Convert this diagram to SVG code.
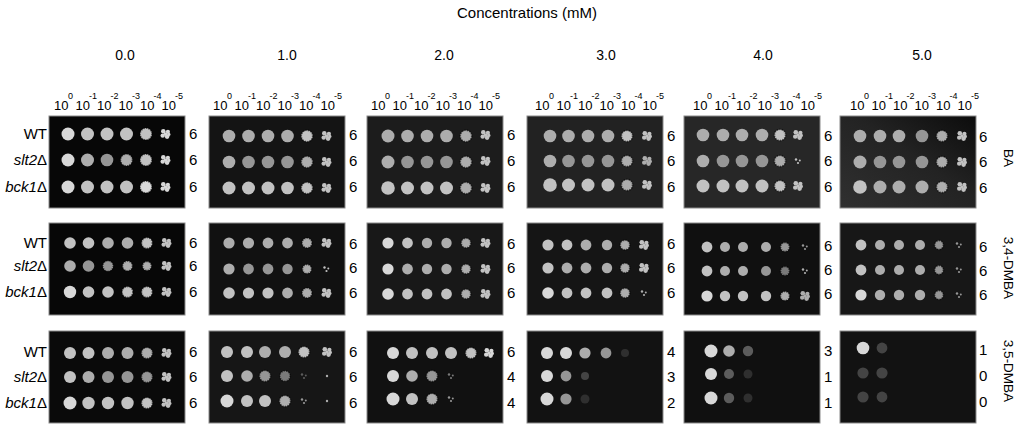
<svg xmlns="http://www.w3.org/2000/svg" xmlns:xlink="http://www.w3.org/1999/xlink" width="1024" height="427" viewBox="0 0 1024 427">
<style>
text{font-family:"Liberation Sans",Arial,sans-serif;fill:#000}
.t{font-size:15px}
.v{font-size:14px}
.n{font-size:15px}
.lb{font-size:15px;text-anchor:end}
.pl{stroke:#8a8a8a;stroke-width:1}
.a{fill:#d8d8d8}.b{fill:#c2c2c2}.c{fill:#adadad}.d{fill:#969696}.e{fill:#7a7a7a}.f{fill:#5c5c5c}.g{fill:#444}.h{fill:#2f2f2f}
.r{stroke:#000;stroke-opacity:.55;stroke-width:1.8;stroke-dasharray:1.2 1.3}
</style>
<defs>
<g id="cl"><circle cx="-2.2" cy="-2.8" r="2.3"/><circle cx="2.4" cy="-2.2" r="2.1"/><circle cx="-2.8" cy="1.6" r="2.2"/><circle cx="1.6" cy="2.6" r="2.3"/><circle cx="3.4" cy="0.4" r="1.6"/><circle cx="0" cy="0" r="1.8"/></g>
<g id="fw"><circle cx="-2" cy="-1.5" r="1.2"/><circle cx="1.8" cy="-0.5" r="1"/><circle cx="0" cy="2" r="1.1"/></g>
<g id="dil">
<text font-size="13" y="110"><tspan x="0">10</tspan><tspan x="21.5">10</tspan><tspan x="43">10</tspan><tspan x="64.5">10</tspan><tspan x="86">10</tspan><tspan x="107.5">10</tspan></text>
<text font-size="9" y="99"><tspan x="14">0</tspan><tspan x="35">-1</tspan><tspan x="56.5">-2</tspan><tspan x="78">-3</tspan><tspan x="99.5">-4</tspan><tspan x="121">-5</tspan></text>
</g>
<linearGradient id="g6" x1="1" y1="0" x2="0" y2="1"><stop offset="0" stop-color="#0c0c0c"/><stop offset="0.45" stop-color="#232323"/><stop offset="1" stop-color="#303030"/></linearGradient>
</defs>

<g id="header">
<text class="t" x="527" y="18" text-anchor="middle">Concentrations (mM)</text>
<text class="v" text-anchor="middle" y="60"><tspan x="125">0.0</tspan><tspan x="287">1.0</tspan><tspan x="444">2.0</tspan><tspan x="606">3.0</tspan><tspan x="763">4.0</tspan><tspan x="922">5.0</tspan></text>
<use href="#dil" x="54"/><use href="#dil" x="213"/><use href="#dil" x="371"/><use href="#dil" x="535"/><use href="#dil" x="693"/><use href="#dil" x="850"/>
</g>

<g id="strains">
<text class="lb" x="47" y="139">WT</text>
<text class="lb" x="47" y="165"><tspan font-style="italic">slt2</tspan>Δ</text>
<text class="lb" x="47" y="192"><tspan font-style="italic">bck1</tspan>Δ</text>
<text class="lb" x="47" y="248">WT</text>
<text class="lb" x="47" y="271"><tspan font-style="italic">slt2</tspan>Δ</text>
<text class="lb" x="47" y="297"><tspan font-style="italic">bck1</tspan>Δ</text>
<text class="lb" x="47" y="357">WT</text>
<text class="lb" x="47" y="382"><tspan font-style="italic">slt2</tspan>Δ</text>
<text class="lb" x="47" y="408"><tspan font-style="italic">bck1</tspan>Δ</text>
</g>

<g id="compounds">
<text transform="translate(1004,158) rotate(90)" text-anchor="middle" font-size="13.5">BA</text>
<text transform="translate(1004,268) rotate(90)" text-anchor="middle" font-size="13.5">3,4-DMBA</text>
<text transform="translate(1004,371) rotate(90)" text-anchor="middle" font-size="13.5">3,5-DMBA</text>
</g>

<g id="scores" class="n">
<text x="189" y="139">6</text><text x="189" y="165">6</text><text x="189" y="192">6</text>
<text x="349" y="140">6</text><text x="349" y="166">6</text><text x="349" y="192">6</text>
<text x="507" y="140">6</text><text x="507" y="166">6</text><text x="507" y="192">6</text>
<text x="667" y="141">6</text><text x="667" y="166">6</text><text x="667" y="192">6</text>
<text x="824" y="141">6</text><text x="824" y="166">6</text><text x="824" y="192">6</text>
<text x="979" y="142">6</text><text x="979" y="167">6</text><text x="979" y="193">6</text>

<text x="189" y="248">6</text><text x="189" y="271">6</text><text x="189" y="297">6</text>
<text x="349" y="249">6</text><text x="349" y="273">6</text><text x="349" y="298">6</text>
<text x="507" y="249">6</text><text x="507" y="273">6</text><text x="507" y="298">6</text>
<text x="667" y="249">6</text><text x="667" y="273">6</text><text x="667" y="298">6</text>
<text x="824" y="251">6</text><text x="824" y="275">6</text><text x="824" y="299">6</text>
<text x="979" y="252">6</text><text x="979" y="276">6</text><text x="979" y="300">6</text>

<text x="189" y="357">6</text><text x="189" y="382">6</text><text x="189" y="408">6</text>
<text x="349" y="357">6</text><text x="349" y="382">6</text><text x="349" y="408">6</text>
<text x="507" y="357">6</text><text x="507" y="382">4</text><text x="507" y="408">4</text>
<text x="667" y="357">4</text><text x="667" y="382">3</text><text x="667" y="408">2</text>
<text x="824" y="356">3</text><text x="824" y="382">1</text><text x="824" y="408">1</text>
<text x="979" y="355">1</text><text x="979" y="381">0</text><text x="979" y="407">0</text>
</g>

<!-- Row 1: BA -->
<g id="r1c1" transform="translate(49,116)">
<rect class="pl" width="136" height="92" fill="#070707"/>
<circle cx="19" cy="18" r="6.5" class="a"/><circle cx="38.5" cy="18" r="6.5" class="b"/><circle cx="58" cy="18" r="6.5" class="b"/><circle cx="77.5" cy="18" r="6.5" class="b"/><circle cx="97" cy="18" r="6" class="b r"/><use href="#cl" x="116.5" y="18" class="a"/>
<circle cx="19" cy="44" r="6.5" class="a"/><circle cx="38.5" cy="44" r="6.5" class="c"/><circle cx="58" cy="44" r="6.3" class="d"/><circle cx="77.5" cy="44" r="6" class="c r"/><circle cx="97" cy="44" r="6" class="b r"/><use href="#cl" x="116.5" y="44" class="a"/>
<circle cx="19" cy="71" r="6.5" class="a"/><circle cx="38.5" cy="71" r="6.5" class="b"/><circle cx="58" cy="71" r="6.5" class="b"/><circle cx="77.5" cy="71" r="6.5" class="b"/><circle cx="97" cy="71" r="6" class="a r"/><use href="#cl" x="116.5" y="71" class="a"/>
</g>
<g id="r1c2" transform="translate(209,116)">
<rect class="pl" width="136" height="92" fill="#141414"/>
<circle cx="20" cy="20" r="6.3" class="c"/><circle cx="39.5" cy="20" r="6.3" class="c"/><circle cx="59" cy="20" r="6.3" class="c"/><circle cx="78.5" cy="20" r="6.3" class="c"/><circle cx="98" cy="20" r="5.8" class="b r"/><use href="#cl" x="117.5" y="20" class="b"/>
<circle cx="20" cy="46" r="6.3" class="c"/><circle cx="39.5" cy="46" r="6.3" class="d"/><circle cx="59" cy="46" r="6.3" class="d"/><circle cx="78.5" cy="46" r="6.3" class="d"/><circle cx="98" cy="46" r="5.8" class="c r"/><use href="#cl" x="117.5" y="46" class="b"/>
<circle cx="20" cy="72" r="6.5" class="b"/><circle cx="39.5" cy="72" r="6.5" class="b"/><circle cx="59" cy="72" r="6.5" class="b"/><circle cx="78.5" cy="72" r="6.3" class="b"/><circle cx="98" cy="72" r="5.8" class="b r"/><use href="#cl" x="117.5" y="72" class="b"/>
</g>
<g id="r1c3" transform="translate(367,116)">
<rect class="pl" width="136" height="92" fill="#1c1c1c"/>
<circle cx="21" cy="20" r="6.5" class="c"/><circle cx="40.5" cy="20" r="6.3" class="c"/><circle cx="60" cy="20" r="6.3" class="c"/><circle cx="79.5" cy="20" r="6.3" class="c"/><circle cx="99" cy="20" r="5.8" class="c r"/><use href="#cl" x="118.5" y="19" class="b"/>
<circle cx="21" cy="46" r="6.5" class="c"/><circle cx="40.5" cy="46" r="6.3" class="d"/><circle cx="60" cy="46" r="6.3" class="d"/><circle cx="79.5" cy="46" r="6.3" class="d"/><circle cx="99" cy="46" r="5.8" class="c r"/><use href="#cl" x="118.5" y="45" class="b"/>
<circle cx="21" cy="72" r="6.8" class="b"/><circle cx="40.5" cy="72" r="6.5" class="b"/><circle cx="60" cy="72" r="6.5" class="b"/><circle cx="79.5" cy="72" r="6.5" class="b"/><circle cx="99" cy="72" r="5.8" class="c r"/><use href="#cl" x="118.5" y="72" class="b"/>
</g>
<g id="r1c4" transform="translate(527,116)">
<rect class="pl" width="136" height="92" fill="#222"/>
<circle cx="23" cy="20" r="6.3" class="c"/><circle cx="41.5" cy="20" r="6.3" class="c"/><circle cx="61" cy="20" r="6.3" class="c"/><circle cx="81" cy="20" r="6.3" class="c"/><circle cx="100" cy="20" r="5.6" class="b r"/><use href="#cl" x="120" y="20" class="b"/>
<circle cx="23" cy="45" r="6.3" class="c"/><circle cx="41.5" cy="45" r="6.3" class="d"/><circle cx="61" cy="45" r="6.3" class="d"/><circle cx="81" cy="45" r="6.3" class="d"/><circle cx="100" cy="45" r="5.6" class="c r"/><use href="#cl" x="120" y="45" class="c"/>
<circle cx="23" cy="69" r="6.8" class="b"/><circle cx="41.5" cy="69" r="6.5" class="b"/><circle cx="61" cy="69" r="6.5" class="b"/><circle cx="81" cy="69" r="6.5" class="b"/><circle cx="100" cy="69" r="5.6" class="c r"/><use href="#cl" x="120" y="69" class="b"/>
</g>
<g id="r1c5" transform="translate(684,116)">
<rect class="pl" width="136" height="92" fill="#272727"/>
<circle cx="19" cy="19" r="6.3" class="c"/><circle cx="39" cy="19" r="6.3" class="c"/><circle cx="58" cy="19" r="6.3" class="c"/><circle cx="78" cy="19" r="6.3" class="c"/><circle cx="96" cy="19" r="5.6" class="b r"/><use href="#cl" x="114" y="19" class="b"/>
<circle cx="19" cy="45" r="6.3" class="c"/><circle cx="39" cy="45" r="6.3" class="d"/><circle cx="58" cy="45" r="6.3" class="d"/><circle cx="78" cy="45" r="6.3" class="d"/><circle cx="96" cy="45" r="5.6" class="c r"/><use href="#fw" x="114" y="45" class="b"/>
<circle cx="19" cy="70" r="6.5" class="b"/><circle cx="39" cy="70" r="6.5" class="b"/><circle cx="58" cy="70" r="6.5" class="b"/><circle cx="78" cy="70" r="6.5" class="b"/><circle cx="96" cy="70" r="5.6" class="b r"/><use href="#cl" x="114" y="70" class="b"/>
</g>
<g id="r1c6" transform="translate(840,116)">
<rect class="pl" width="136" height="92" fill="url(#g6)"/>
<circle cx="20" cy="20" r="6.3" class="c"/><circle cx="40" cy="20" r="6.3" class="c"/><circle cx="59" cy="20" r="6.3" class="c"/><circle cx="82" cy="20" r="6.3" class="d"/><circle cx="102" cy="20" r="5.6" class="c r"/><use href="#cl" x="122" y="20" class="b"/>
<circle cx="20" cy="46" r="6.5" class="c"/><circle cx="40" cy="46" r="6.3" class="d"/><circle cx="59" cy="46" r="6.3" class="d"/><circle cx="82" cy="46" r="6.3" class="d"/><circle cx="102" cy="46" r="5.6" class="c r"/><use href="#cl" x="122" y="46" class="b"/>
<circle cx="20" cy="71" r="6.8" class="b"/><circle cx="40" cy="71" r="6.5" class="c"/><circle cx="59" cy="71" r="6.5" class="c"/><circle cx="82" cy="71" r="6.5" class="c"/><circle cx="102" cy="71" r="5.6" class="c r"/><use href="#cl" x="122" y="71" class="b"/>
</g>

<!-- Row 2: 3,4-DMBA -->
<g id="r2c1" transform="translate(49,223)">
<rect class="pl" width="136" height="92" fill="#070707"/>
<circle cx="21" cy="20" r="5.8" class="b"/><circle cx="39.5" cy="20" r="5.8" class="b"/><circle cx="59" cy="20" r="5.8" class="c"/><circle cx="78.5" cy="20" r="5.8" class="c"/><circle cx="98" cy="20" r="5.5" class="b r"/><use href="#cl" x="117.5" y="20" class="b"/>
<circle cx="21" cy="43" r="5.8" class="c"/><circle cx="39.5" cy="43" r="5.8" class="d"/><circle cx="59" cy="43" r="5.3" class="d r"/><circle cx="78.5" cy="43" r="5" class="c r"/><circle cx="98" cy="43" r="4.5" class="c r"/><use href="#cl" x="117.5" y="43" class="b"/>
<circle cx="21" cy="69" r="6.2" class="a"/><circle cx="39.5" cy="69" r="5.8" class="b"/><circle cx="59" cy="69" r="5.8" class="b"/><circle cx="78.5" cy="69" r="5.5" class="b r"/><circle cx="98" cy="69" r="5.5" class="b r"/><use href="#cl" x="117.5" y="69" class="b"/>
</g>
<g id="r2c2" transform="translate(209,223)">
<rect class="pl" width="136" height="92" fill="#111"/>
<circle cx="20" cy="20" r="5.6" class="c"/><circle cx="39.5" cy="20" r="5.6" class="c"/><circle cx="59" cy="20" r="5.4" class="c"/><circle cx="78.5" cy="20" r="5.4" class="c"/><circle cx="98" cy="20" r="5" class="c r"/><use href="#cl" x="117.5" y="20" class="b"/>
<circle cx="20" cy="46" r="5.6" class="c"/><circle cx="39.5" cy="46" r="5.4" class="d"/><circle cx="59" cy="46" r="5.4" class="d"/><circle cx="78.5" cy="46" r="5.2" class="d"/><circle cx="98" cy="46" r="4.6" class="c r"/><use href="#fw" x="117.5" y="46" class="b"/>
<circle cx="20" cy="70" r="5.8" class="b"/><circle cx="39.5" cy="70" r="5.6" class="b"/><circle cx="59" cy="70" r="5.6" class="b"/><circle cx="78.5" cy="70" r="5.4" class="c"/><circle cx="98" cy="70" r="5" class="c r"/><use href="#cl" x="117.5" y="70" class="b"/>
</g>
<g id="r2c3" transform="translate(367,223)">
<rect class="pl" width="136" height="92" fill="#181818"/>
<circle cx="21" cy="20" r="5.6" class="a"/><circle cx="40.5" cy="20" r="5.4" class="b"/><circle cx="60" cy="20" r="5.2" class="c"/><circle cx="79.5" cy="20" r="5.2" class="c"/><circle cx="99" cy="20" r="4.8" class="c r"/><use href="#cl" x="118.5" y="20" class="b"/>
<circle cx="21" cy="46" r="5.6" class="a"/><circle cx="40.5" cy="46" r="5.4" class="c"/><circle cx="60" cy="46" r="5.2" class="c"/><circle cx="79.5" cy="46" r="5.2" class="c"/><circle cx="99" cy="46" r="4.8" class="c r"/><use href="#cl" x="118.5" y="46" class="b"/>
<circle cx="21" cy="71" r="5.8" class="a"/><circle cx="40.5" cy="71" r="5.4" class="b"/><circle cx="60" cy="71" r="5.4" class="b"/><circle cx="79.5" cy="71" r="5.4" class="b"/><circle cx="99" cy="71" r="4.8" class="c r"/><use href="#cl" x="118.5" y="71" class="b"/>
</g>
<g id="r2c4" transform="translate(527,223)">
<rect class="pl" width="136" height="92" fill="#151515"/>
<circle cx="21" cy="22" r="5.6" class="b"/><circle cx="40" cy="22" r="5.4" class="b"/><circle cx="59" cy="22" r="5.4" class="c"/><circle cx="80" cy="22" r="5.2" class="c"/><circle cx="98" cy="22" r="4.8" class="c r"/><use href="#cl" x="117" y="22" class="b"/>
<circle cx="21" cy="45" r="5.6" class="b"/><circle cx="40" cy="45" r="5.4" class="c"/><circle cx="59" cy="45" r="5.4" class="c"/><circle cx="80" cy="45" r="5.2" class="c"/><circle cx="98" cy="45" r="4.8" class="c r"/><use href="#cl" x="117" y="45" class="b"/>
<circle cx="21" cy="70" r="5.8" class="a"/><circle cx="40" cy="70" r="5.4" class="b"/><circle cx="59" cy="70" r="5.4" class="b"/><circle cx="80" cy="70" r="5.4" class="b"/><circle cx="98" cy="70" r="4.8" class="c r"/><use href="#fw" x="117" y="70" class="c"/>
</g>
<g id="r2c5" transform="translate(684,223)">
<rect class="pl" width="136" height="92" fill="#101010"/>
<circle cx="23" cy="24" r="5.4" class="b"/><circle cx="41" cy="24" r="5" class="c"/><circle cx="59" cy="24" r="5" class="c"/><circle cx="82" cy="24" r="5" class="c"/><circle cx="101" cy="24" r="4.5" class="d r"/><use href="#fw" x="121" y="24" class="d"/>
<circle cx="23" cy="48" r="5.4" class="b"/><circle cx="41" cy="48" r="5" class="c"/><circle cx="59" cy="48" r="5" class="c"/><circle cx="82" cy="48" r="5" class="d"/><circle cx="101" cy="48" r="4.5" class="e r"/><use href="#fw" x="121" y="48" class="c"/>
<circle cx="23" cy="73" r="5.6" class="a"/><circle cx="41" cy="73" r="5.2" class="b"/><circle cx="59" cy="73" r="5.2" class="b"/><circle cx="82" cy="73" r="5.2" class="b"/><circle cx="101" cy="73" r="4.6" class="c r"/><use href="#cl" x="121" y="73" class="c"/>
</g>
<g id="r2c6" transform="translate(840,223)">
<rect class="pl" width="136" height="92" fill="#171717"/>
<circle cx="21" cy="22" r="5.4" class="b"/><circle cx="40" cy="22" r="5" class="c"/><circle cx="59" cy="22" r="5" class="c"/><circle cx="80" cy="22" r="5" class="c"/><circle cx="99" cy="22" r="4.4" class="d r"/><use href="#fw" x="119" y="22" class="d"/>
<circle cx="21" cy="47" r="5.4" class="b"/><circle cx="40" cy="47" r="5" class="c"/><circle cx="59" cy="47" r="5" class="c"/><circle cx="80" cy="47" r="5" class="c"/><circle cx="99" cy="47" r="4.4" class="d r"/><use href="#fw" x="119" y="47" class="d"/>
<circle cx="21" cy="72" r="5.6" class="a"/><circle cx="40" cy="72" r="5.2" class="c"/><circle cx="59" cy="72" r="5.2" class="c"/><circle cx="80" cy="72" r="5.2" class="c"/><circle cx="99" cy="72" r="4.4" class="d r"/><use href="#fw" x="119" y="72" class="d"/>
</g>

<!-- Row 3: 3,5-DMBA -->
<g id="r3c1" transform="translate(49,331)">
<rect class="pl" width="136" height="92" fill="#0a0a0a"/>
<circle cx="21" cy="22" r="6" class="b"/><circle cx="39.5" cy="22" r="6" class="b"/><circle cx="59" cy="22" r="6" class="c"/><circle cx="78.5" cy="22" r="6" class="c"/><circle cx="98" cy="22" r="5.6" class="c r"/><use href="#cl" x="117.5" y="22" class="b"/>
<circle cx="21" cy="46" r="6" class="b"/><circle cx="39.5" cy="46" r="6" class="c"/><circle cx="59" cy="46" r="6" class="d"/><circle cx="78.5" cy="46" r="6" class="d"/><circle cx="98" cy="46" r="5.6" class="d r"/><use href="#cl" x="117.5" y="46" class="b"/>
<circle cx="21" cy="72" r="6.5" class="a"/><circle cx="39.5" cy="72" r="6.2" class="b"/><circle cx="59" cy="72" r="6.2" class="b"/><circle cx="78.5" cy="72" r="6.2" class="b"/><circle cx="98" cy="72" r="5.6" class="b r"/><use href="#cl" x="117.5" y="72" class="b"/>
</g>
<g id="r3c2" transform="translate(209,331)">
<rect class="pl" width="136" height="92" fill="#161616"/>
<circle cx="18" cy="21" r="6" class="b"/><circle cx="38" cy="21" r="6" class="b"/><circle cx="56" cy="21" r="6" class="c"/><circle cx="76" cy="21" r="6" class="c"/><circle cx="95" cy="21" r="5.6" class="b r"/><use href="#cl" x="118" y="21" class="b"/>
<circle cx="18" cy="45" r="6" class="b"/><circle cx="38" cy="45" r="5.8" class="c"/><circle cx="56" cy="45" r="5.6" class="d r"/><circle cx="76" cy="45" r="5.2" class="e r"/><use href="#fw" x="95" y="45" class="f"/><circle cx="118" cy="45" r="1.2" class="c"/>
<circle cx="18" cy="70" r="6.5" class="a"/><circle cx="38" cy="70" r="6" class="b"/><circle cx="56" cy="70" r="6" class="b"/><circle cx="76" cy="70" r="5.6" class="c r"/><use href="#fw" x="95" y="70" class="d"/><circle cx="118" cy="70" r="1.2" class="c"/>
</g>
<g id="r3c3" transform="translate(367,331)">
<rect class="pl" width="136" height="92" fill="#111"/>
<circle cx="26" cy="22" r="6" class="a"/><circle cx="45" cy="22" r="6" class="b"/><circle cx="65" cy="22" r="6" class="b"/><circle cx="84" cy="22" r="6" class="b"/><circle cx="104" cy="22" r="5.6" class="b r"/><use href="#cl" x="122" y="22" class="a"/>
<circle cx="26" cy="45" r="6" class="a"/><circle cx="45" cy="45" r="5.8" class="c"/><circle cx="65" cy="45" r="5.6" class="d r"/><use href="#fw" x="84" y="45" class="e"/>
<circle cx="26" cy="68" r="6.5" class="a"/><circle cx="45" cy="68" r="6" class="b"/><circle cx="65" cy="68" r="5.6" class="c r"/><use href="#fw" x="84" y="68" class="d"/>
</g>
<g id="r3c4" transform="translate(527,331)">
<rect class="pl" width="136" height="92" fill="#121212"/>
<circle cx="20" cy="22" r="6" class="a"/><circle cx="39" cy="22" r="6" class="a"/><circle cx="58" cy="22" r="5.6" class="c"/><circle cx="79" cy="22" r="5.4" class="d"/><circle cx="98" cy="22" r="4" class="h"/>
<circle cx="20" cy="45" r="6" class="a"/><circle cx="39" cy="45" r="5.4" class="d"/><circle cx="58" cy="45" r="4" class="g"/>
<circle cx="20" cy="68" r="6.5" class="a"/><circle cx="39" cy="68" r="5.6" class="d"/><circle cx="58" cy="68" r="4.5" class="h"/>
</g>
<g id="r3c5" transform="translate(684,331)">
<rect class="pl" width="136" height="92" fill="#101010"/>
<circle cx="27" cy="20" r="6.5" class="a"/><circle cx="45" cy="20" r="5.8" class="c"/><circle cx="64" cy="20" r="5.2" class="f"/>
<circle cx="27" cy="43" r="6" class="a"/><circle cx="45" cy="43" r="5" class="f"/><circle cx="64" cy="43" r="4.5" class="h"/>
<circle cx="27" cy="67" r="6.5" class="a"/><circle cx="45" cy="67" r="5.2" class="f"/><circle cx="64" cy="67" r="4.5" class="h"/>
</g>
<g id="r3c6" transform="translate(840,331)">
<rect class="pl" width="136" height="92" fill="#121212"/>
<circle cx="23" cy="17" r="6.3" class="a"/><circle cx="42" cy="17" r="5.4" class="g"/>
<circle cx="23" cy="42" r="5.6" class="g"/><circle cx="42" cy="42" r="5.6" class="g"/>
<circle cx="23" cy="66" r="5.6" class="g"/><circle cx="42" cy="66" r="5.4" class="g"/>
</g>
</svg>
